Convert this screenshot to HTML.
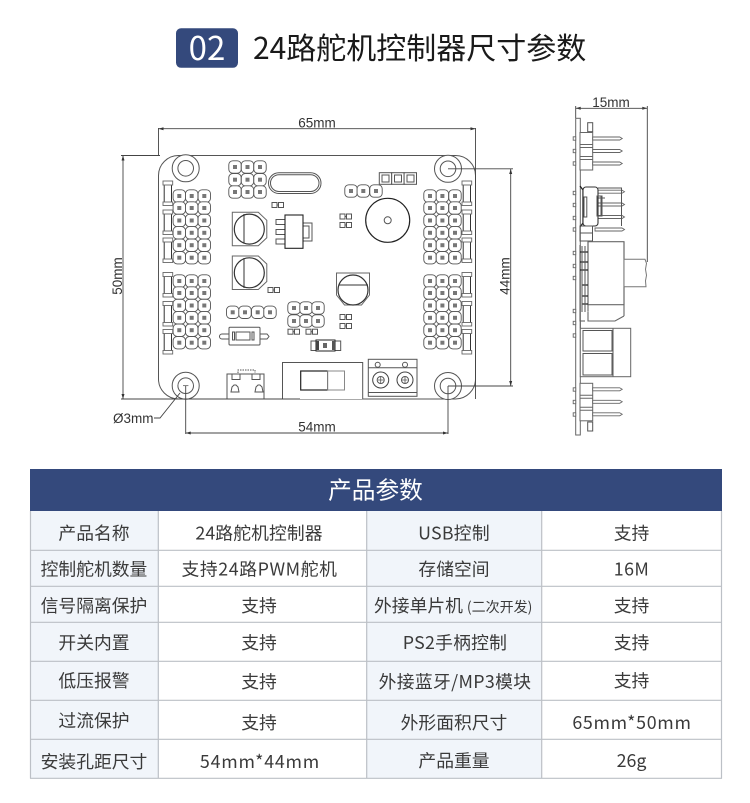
<!DOCTYPE html>
<html lang="zh"><head><meta charset="utf-8"><title>24路舵机控制器尺寸参数</title>
<style>
html,body{margin:0;padding:0;background:#fff;width:750px;height:803px;overflow:hidden}
svg{display:block}
.d{font:13.5px "Liberation Sans",sans-serif;fill:#333}
.c{font-family:"Noto Sans CJK SC","Liberation Sans",sans-serif;font-size:17.8px;fill:#3a3a3a;text-anchor:middle}
.l{fill:none;stroke:#444;stroke-width:.9}
.g{fill:none;stroke:#555;stroke-width:1}
.t{stroke:#bcc0c6;stroke-width:1.2;fill:none}
</style></head><body>
<svg width="750" height="803" viewBox="0 0 750 803" xmlns="http://www.w3.org/2000/svg">
<defs>
<g id="p"><rect x="-6.200" y="-6.200" width="12.400" height="12.400" rx="4" fill="#fff" stroke="#555" stroke-width=".9"/><rect x="-2" y="-2" width="4" height="4" fill="#777"/></g>
<g id="col"><use href="#p" y="0"/><use href="#p" y="12"/><use href="#p" y="24.500"/><use href="#p" y="36.800"/><use href="#p" y="49.200"/><use href="#p" y="61.700"/></g>
<g id="blk"><use href="#col" x="0"/><use href="#col" x="12.400"/><use href="#col" x="25"/></g>
<g id="r"><rect x="1.200" y="3" width="7.300" height="20" fill="#fff" stroke="#333" stroke-width="1"/><rect x="0" y="0" width="9.700" height="4" fill="#fff" stroke="#666" stroke-width=".9"/><rect x="0" y="21" width="9.700" height="3.500" fill="#fff" stroke="#666" stroke-width=".9"/></g>
<g id="rs"><use href="#r" y="0"/><use href="#r" y="29"/><use href="#r" y="57"/></g>
<g id="s"><rect x="0" y="-2.500" width="5" height="5" class="g" stroke-width=".8"/><rect x="6.500" y="-2.500" width="5" height="5" class="g" stroke-width=".8"/><path d="M5 0h1.500" stroke="#555"/></g>
<g id="hole"><circle r="13.500" fill="#fff" stroke="#555" stroke-width="1"/><circle r="7.800" fill="#fff" stroke="#555" stroke-width="1"/></g>
<g id="cap"><path d="M0 0H26L34.500 8V25.500L26 33.500H0Z" fill="#fff" stroke="#666"/><circle cx="17" cy="16.800" r="15" fill="#fff" stroke="#333" stroke-width="1.200"/></g>
<g id="cap3"><path d="M0 0H33V22L25 32H8L0 22Z" fill="#fff" stroke="#666"/><circle cx="16.500" cy="17" r="15" fill="#fff" stroke="#333" stroke-width="1.200"/></g>
<g id="pin"><path d="M0 -1.500h27l2.500 1.500-2.500 1.500H0z" fill="#fff" stroke="#666" stroke-width=".9"/></g>
<g id="stub"><rect x="-2.500" y="-1.700" width="2.500" height="3.400" fill="#fff" stroke="#666" stroke-width=".9"/></g>
<g id="hdr"><rect x="0" y="0" width="12.700" height="37.500" fill="#fff" stroke="#666"/><path d="M0 12h12.700M0 15h12.700M0 24h12.700M0 27h12.700" stroke="#666"/><use href="#pin" x="12.700" y="6"/><use href="#pin" x="12.700" y="18.500"/><use href="#pin" x="12.700" y="31"/></g>
</defs>
<rect width="750" height="803" fill="#fff"/>

<!-- title -->
<rect x="176" y="28.300" width="62" height="39.500" rx="5" fill="#34497c"/>
<text x="207" y="60" text-anchor="middle" font-family="Noto Sans CJK SC,Liberation Sans,sans-serif" font-size="33" fill="#fff">02</text>
<text x="253" y="59" font-family="Noto Sans CJK SC,Liberation Sans,sans-serif" font-size="30" fill="#1a1a1a">24路舵机控制器尺寸参数</text>

<!-- board outline -->
<path d="M178.500 155.500H455.500a20 20 0 0 1 20 20V379a20 20 0 0 1-20 20H178.500a20 20 0 0 1-20-20V175.500a20 20 0 0 1 20-20z" fill="#fff" stroke="#555" stroke-width="1"/>
<use href="#hole" x="185.700" y="168.300"/><use href="#hole" x="448" y="168.800"/><use href="#hole" x="185.700" y="385.700"/><use href="#hole" x="448" y="386"/>

<!-- pad blocks -->
<use href="#blk" x="179.300" y="196"/><use href="#blk" x="179.300" y="281"/><use href="#blk" x="430" y="196"/><use href="#blk" x="430" y="281"/>
<use href="#rs" x="163" y="181"/><use href="#rs" x="163" y="272.500"/><use href="#rs" x="462" y="181"/><use href="#rs" x="462" y="272.500"/>
<!-- 3x3 -->
<g><use href="#p" x="235" y="167"/><use href="#p" x="247.500" y="167"/><use href="#p" x="260" y="167"/><use href="#p" x="235" y="179.700"/><use href="#p" x="247.500" y="179.700"/><use href="#p" x="260" y="179.700"/><use href="#p" x="235" y="192"/><use href="#p" x="247.500" y="192"/><use href="#p" x="260" y="192"/></g>
<!-- crystal -->
<rect x="268.500" y="172.700" width="52.500" height="20.800" rx="10.400" fill="#fff" stroke="#555" stroke-width="1"/>
<rect x="270.500" y="174.700" width="48.500" height="16.800" rx="8.400" class="g" stroke-width=".7"/>
<use href="#s" x="272" y="205"/>
<!-- regulator -->
<rect x="276" y="219.500" width="9" height="5" class="g"/><rect x="276" y="229.500" width="9" height="5" class="g"/><rect x="276" y="239" width="9" height="5" class="g"/>
<rect x="303" y="223" width="9" height="18" class="g"/><rect x="303" y="226" width="6" height="12" class="g" stroke-width=".7"/>
<rect x="285" y="215" width="18" height="33.300" fill="#fff" stroke="#222" stroke-width="1.100"/>
<use href="#s" x="340" y="216.500"/><use href="#s" x="340" y="225"/>
<!-- caps -->
<use href="#cap" x="232.300" y="212.300"/><path d="M244 214v29" stroke="#333"/>
<use href="#cap" x="232.300" y="256"/><path d="M244 258v30" stroke="#333"/>
<use href="#cap3" x="336.500" y="273"/><path d="M339 285h29" stroke="#333"/>
<use href="#s" x="268" y="290"/>
<!-- header pads -->
<use href="#p" x="232.700" y="312.300"/><use href="#p" x="245" y="312.300"/><use href="#p" x="257.700" y="312.300"/><use href="#p" x="270" y="312.300"/>
<use href="#p" x="294" y="308"/><use href="#p" x="306" y="308"/><use href="#p" x="318" y="308"/><use href="#p" x="294" y="321"/><use href="#p" x="306" y="321"/><use href="#p" x="318" y="321"/>
<use href="#s" x="288" y="331.700"/><use href="#s" x="306" y="331.700"/>
<use href="#s" x="340" y="317"/><use href="#s" x="340" y="326"/>
<use href="#p" x="351" y="191"/><use href="#p" x="363.300" y="191"/><use href="#p" x="376" y="191"/>
<!-- 3 boxes -->
<g fill="#fff" stroke="#555"><rect x="379.300" y="172.700" width="12.400" height="11.600"/><rect x="391.700" y="172.700" width="12.400" height="11.600"/><rect x="404.100" y="172.700" width="12.400" height="11.600"/></g>
<g class="g"><rect x="382" y="175" width="7" height="7"/><rect x="394.500" y="175" width="7" height="7"/><rect x="407" y="175" width="7" height="7"/></g>
<!-- buzzer -->
<circle cx="387.700" cy="220.300" r="22" fill="#fff" stroke="#222" stroke-width="1.200"/><circle cx="387.700" cy="220.300" r="3.500" class="g"/>
<!-- button -->
<path d="M229 334h-7a2.500 2.500 0 0 0 0 5h7M260 334h7l2 2.500-2 2.500h-7" class="g"/>
<rect x="229" y="327.300" width="31" height="17.700" rx="1" fill="#fff" stroke="#555"/><rect x="236" y="332" width="14" height="8" class="g"/><rect x="232.500" y="332" width="2" height="8" class="g" stroke-width=".7"/><rect x="252" y="332" width="2" height="8" class="g" stroke-width=".7"/>
<!-- diode -->
<rect x="311" y="341" width="29.700" height="9.500" fill="#fff" stroke="#555"/><rect x="316" y="340" width="19" height="11" fill="#fff" stroke="#222"/><rect x="316" y="341" width="3" height="9" fill="#444"/><rect x="332" y="341" width="3" height="9" fill="#555"/><rect x="323" y="343" width="4" height="5" fill="#666"/>
<!-- usb -->
<path d="M227 399V374h37v25" class="g"/><path d="M238 373v-3h17v3" class="g" stroke-dasharray="1.500 1"/><rect x="232" y="374" width="8" height="5.500" class="g"/><rect x="252" y="374" width="8" height="5.500" class="g"/>
<path d="M231 392l1-5 2-2h2l2 2 1 5zM255 392l1-5 2-2h2l2 2 1 5z" class="g"/>
<!-- switch -->
<path d="M282.500 399V362.500h80.200V399" fill="#fff" stroke="#555"/><rect x="300.700" y="371" width="27" height="19" fill="#fff" stroke="#222" stroke-width="1.200"/><rect x="327.700" y="371" width="16.800" height="19" fill="#fff" stroke="#888" stroke-width="1"/>
<!-- terminal -->
<rect x="368.300" y="359.300" width="48.700" height="37" fill="#fff" stroke="#555"/><path d="M368.300 367.700H417M368.300 392.500H417" stroke="#555"/><circle cx="377.700" cy="364.800" r="2.500" class="g"/><circle cx="405" cy="364.800" r="2.500" class="g"/>
<circle cx="380.700" cy="380" r="8" fill="#fff" stroke="#444"/><circle cx="405" cy="380" r="8" fill="#fff" stroke="#444"/><circle cx="380.700" cy="380" r="3.500" class="g"/><circle cx="405" cy="380" r="3.500" class="g"/><path d="M378 380h5.500M380.700 377v6M402 380h5.500M405 377v6" stroke="#555" stroke-width=".8"/>

<!-- dimensions -->
<g class="l">
<path d="M158.500 128.700H475.500M158.500 128V155.500M475.500 128V399M123 155.500V399M121 155.500H160M121 399H300M510.700 169V386M448 168.800H513M448 386H513M185.700 385.700V434M448 386V434M185.700 433H448"/>
<path d="M180 393L160 418H154"/>
<path d="M183 385.700h5.400" stroke-width=".7"/>
</g>
<g fill="#333"><path d="M158.500 128.700l5-1.500v3zM475.500 128.700l-5-1.500v3zM123 155.500l-1.500 5h3zM123 399l-1.500-5h3zM510.700 169l-1.500 5h3zM510.700 386l-1.500-5h3zM185.700 433l5-1.500v3zM448 433l-5-1.500v3zM575.700 108.300l5-1.500v3zM647.300 108.300l-5-1.500v3z"/></g>
<text class="d" x="317" y="127.300" text-anchor="middle">65mm</text>
<text class="d" x="317" y="431.500" text-anchor="middle">54mm</text>
<text class="d" x="113" y="423">Ø3mm</text>
<text class="d" text-anchor="middle" transform="translate(122 276) rotate(-90)">50mm</text>
<text class="d" text-anchor="middle" transform="translate(509.500 276) rotate(-90)">44mm</text>

<!-- side view -->
<path d="M575.700 108.300H647.300" class="l"/><path d="M575.700 106V118M647.300 106V262" class="l" stroke="#777"/>
<text class="d" x="611" y="107" text-anchor="middle">15mm</text>
<rect x="575.700" y="118.300" width="4.600" height="316.700" fill="#fff" stroke="#666"/>
<rect x="587.700" y="122.700" width="5" height="9" class="g"/>
<rect x="587.700" y="422" width="5" height="9" class="g"/>
<use href="#hdr" x="580" y="132.500"/><use href="#hdr" x="580" y="383.300"/>
<g><use href="#stub" x="575.700" y="138.500"/><use href="#stub" x="575.700" y="151"/><use href="#stub" x="575.700" y="163.500"/><use href="#stub" x="575.700" y="193"/><use href="#stub" x="575.700" y="205"/><use href="#stub" x="575.700" y="218"/><use href="#stub" x="575.700" y="229.500"/><use href="#stub" x="575.700" y="253"/><use href="#stub" x="575.700" y="266"/><use href="#stub" x="575.700" y="278"/><use href="#stub" x="575.700" y="311"/><use href="#stub" x="575.700" y="323"/><use href="#stub" x="575.700" y="335.500"/><use href="#stub" x="575.700" y="389.500"/><use href="#stub" x="575.700" y="402"/><use href="#stub" x="575.700" y="414.500"/></g>
<!-- mid switch & header -->
<g><use href="#pin" x="595" y="191.700"/><use href="#pin" x="595" y="204.500"/><use href="#pin" x="595" y="217"/><use href="#pin" x="595" y="229.500"/></g>
<path d="M598 188H621.500V226M598 198h7M601 196v20" class="g"/>
<path d="M580 186l3 4V223l-3 4" fill="none" stroke="#222" stroke-width="1.300"/>
<rect x="583" y="187" width="15" height="39" rx="3" fill="#fff" stroke="#333" stroke-width="1.100"/>
<rect x="584" y="197" width="2.800" height="20" class="g"/>
<rect x="597" y="196" width="5" height="20" class="g"/>
<rect x="580" y="226" width="12.500" height="15" class="g"/><path d="M580 233h12.500" class="g"/>
<!-- big box -->
<rect x="588" y="241.700" width="36" height="63" fill="#fff" stroke="#666" stroke-width="1.100"/>
<path d="M624 241.700V316M624 316l-9 5H588V312" fill="none" stroke="#666" stroke-width="1.100"/>
<path d="M580 245v76h5M588 241.700v70" class="g"/>
<path d="M580 252h8M580 262h8M580 270h8M582 285h6M582 296h6M582 304h6" stroke="#222" stroke-width="1.300"/>
<path d="M582 246V312M585 246V312" class="g" stroke-width=".7"/>
<!-- pot -->
<path d="M624 259.300H645l1.500 4-1 6 1 6-1 5.500 .5 5.900H624z" fill="#fff" stroke="#777" stroke-width="1"/>
<!-- terminal side -->
<rect x="580.300" y="328.300" width="50.400" height="48.400" fill="#fff" stroke="#666"/>
<path d="M613 328.300V376.700M580.300 321V328" stroke="#666" stroke-width="1.100"/>
<rect x="583" y="330.500" width="29" height="20.500" class="g"/><rect x="583" y="353.500" width="29" height="21.500" class="g"/>

<!-- table -->
<rect x="30" y="469" width="692" height="42" fill="#34497c"/>
<rect x="30" y="511" width="128.300" height="267.500" fill="#f1f5fa"/>
<rect x="366.700" y="511" width="175" height="267.500" fill="#f1f5fa"/>
<g class="t"><path d="M30 550.300H722M30 586.300H722M30 622.300H722M30 661.300H722M30 700.300H722M30 739.300H722M30 778.300H722M30.500 511V778.500M158.300 511V778.500M366.700 511V778.500M541.700 511V778.500M721.500 511V778.500"/></g>
<text x="375.500" y="498.500" text-anchor="middle" font-family="Noto Sans CJK SC,Liberation Sans,sans-serif" font-size="23.700" fill="#fff">产品参数</text>
<g class="c">
<text x="94" y="539.500">产品名称</text><text x="259" y="539.500" letter-spacing=".1">24路舵机控制器</text><text x="454" y="539.500" letter-spacing=".25">USB控制</text><text x="631.500" y="539.500">支持</text>
<text x="94" y="575.500">控制舵机数量</text><text x="259.500" y="575.500" letter-spacing=".6">支持24路PWM舵机</text><text x="454" y="575.500">存储空间</text><text x="631.500" y="575.500" letter-spacing=".4">16M</text>
<text x="94" y="612">信号隔离保护</text><text x="259" y="612">支持</text><text x="374" y="612" style="text-anchor:start">外接单片机 <tspan font-size="14">(二次开发)</tspan></text><text x="631.500" y="612">支持</text>
<text x="94" y="649">开关内置</text><text x="259" y="649">支持</text><text x="455" y="649" letter-spacing=".25">PS2手柄控制</text><text x="631.500" y="649">支持</text>
<text x="94" y="687">低压报警</text><text x="259" y="688">支持</text><text x="455" y="688" letter-spacing=".35">外接蓝牙/MP3模块</text><text x="631.500" y="687">支持</text>
<text x="94" y="727">过流保护</text><text x="259" y="729">支持</text><text x="454" y="729">外形面积尺寸</text><text x="632" y="729" letter-spacing=".7">65mm*50mm</text>
<text x="94" y="768">安装孔距尺寸</text><text x="260" y="768" letter-spacing=".8">54mm*44mm</text><text x="454" y="767">产品重量</text><text x="631.500" y="767">26g</text>
</g>
</svg>
</body></html>
